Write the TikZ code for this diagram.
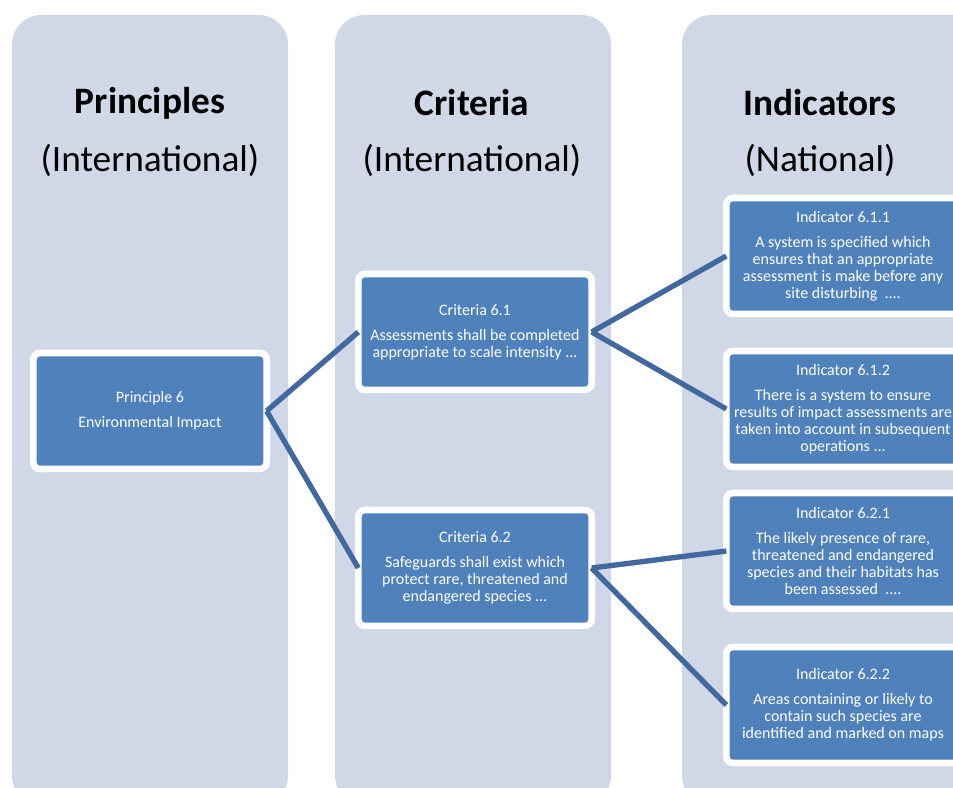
\documentclass[tikz,border=0pt]{standalone}
\usepackage{fontspec}
\setmainfont{Carlito}
\usetikzlibrary{shadows,positioning}

\definecolor{lanefill}{RGB}{208,216,232}
\definecolor{cardblue}{RGB}{79,129,189}
\definecolor{tieblue}{RGB}{65,105,160}

\tikzset{
  lane/.style={fill=lanefill, rounded corners=22pt},
  headtxt/.style={font=\fontsize{28}{33}\selectfont},
  card/.style={draw=white, line width=5pt, fill=cardblue, rounded corners=5pt,
    text=white, align=center, minimum width=175pt, minimum height=87pt,
    outer sep=0pt, inner sep=2pt, font=\fontsize{12}{12.75}\selectfont,
    drop shadow={shadow xshift=1.5pt, shadow yshift=-2.5pt, opacity=0.4}},
  tie/.style={draw=tieblue, line width=4pt}
}

\begin{document}
\begin{tikzpicture}[x=0.75pt,y=-0.75pt]
    \useasboundingbox (0,0) rectangle (953,788);
    \clip (0,0) rectangle (953,788);
    % the three columns
    \fill[lane] (12,15) rectangle (288,805);
    \fill[lane] (335,15) rectangle (611,805);
    \fill[lane] (682,15) rectangle (990,805);
    \node[headtxt] (Ph) at (150,103) {\textbf{Principles}};
    \node[headtxt] (Pl) at (150,160) {(International)};
    \node[headtxt] (Ch) at (472,103) {\textbf{Criteria}};
    \node[headtxt] (Cl) at (472,160) {(International)};
    \node[headtxt] (Ih) at (820,103) {\textbf{Indicators}};
    \node[headtxt] (Il) at (820,160) {(National)};
    % boxes
    \node[card] (P) at (150,411) {Principle 6\\[6pt]Environmental Impact};
    \node[card] (C1) at (475,332) {Criteria 6.1\\[6pt]Assessments shall be completed\\appropriate to scale intensity ...};
    \node[card] (C2) at (475,568) {Criteria 6.2\\[6pt]Safeguards shall exist which\\protect rare, threatened and\\endangered species ...};
    \node[card] (I1) at (843,256) {Indicator 6.1.1\\[6pt]A system is specified which\\ensures that an appropriate\\assessment is make before any\\site disturbing \ ....};
    \node[card] (I2) at (843,409) {Indicator 6.1.2\\[6pt]There is a system to ensure\\results of impact assessments are\\taken into account in subsequent\\operations ...};
    \node[card] (I3) at (843,551) {Indicator 6.2.1\\[6pt]The likely presence of rare,\\threatened and endangered\\species and their habitats has\\been assessed \ ....};
    \node[card] (I4) at (843,705) {Indicator 6.2.2\\[6pt]Areas containing or likely to\\contain such species are\\identified and marked on maps};
    % links
    \draw[tie] (P.east) -- (C1.west);
    \draw[tie] (P.east) -- (C2.west);
    \draw[tie] (C1.east) -- (I1.west);
    \draw[tie] (C1.east) -- (I2.west);
    \draw[tie] (C2.east) -- (I3.west);
    \draw[tie] (C2.east) -- (I4.west);
\end{tikzpicture}
\end{document}
